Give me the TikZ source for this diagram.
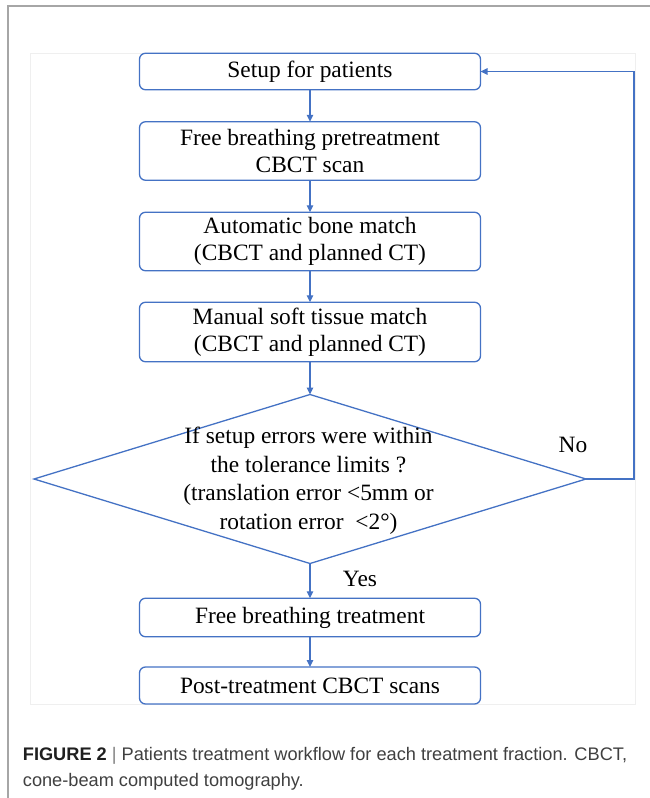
\documentclass[tikz,border=0pt]{standalone}
\usepackage{fontspec}
\setmainfont{Liberation Serif}
\newfontfamily\capfont{Liberation Sans}
\usetikzlibrary{arrows.meta,shapes.geometric}
\definecolor{flowblue}{HTML}{4472C4}
\definecolor{framegray}{HTML}{A6A6A6}
\definecolor{innergray}{HTML}{EFEFEF}
\definecolor{captext}{HTML}{404040}
\tikzset{
  stepbox/.style={draw=flowblue, line width=1.3pt, rounded corners=6pt,
    minimum width=341pt, inner sep=0pt, outer sep=0pt, align=center,
    font=\fontsize{23.4}{27.5}\selectfont},
  decision/.style={draw=flowblue, line width=1.3pt, shape=diamond,
    minimum width=552pt, minimum height=169pt, inner sep=0pt, outer sep=0pt},
  flowtext/.style={align=center, font=\fontsize{23.4}{28.5}\selectfont, inner sep=0pt},
  arr/.style={draw=flowblue, line width=1.4pt, -{Triangle[length=7pt,width=6.5pt]}},
  captionstyle/.style={anchor=base west, inner sep=0pt, text=captext,
    font=\capfont\fontsize{18.2}{22}\selectfont}
}
\begin{document}
\begin{tikzpicture}[x=1pt,y=-1pt]
\useasboundingbox (0,0) rectangle (650,798);
% frame
\draw[framegray, line width=1.5pt] (650,6) -- (8,6) -- (8,798);
\draw[innergray, line width=0.8pt] (30,53) rectangle (635,704);
% boxes
\node[stepbox, minimum height=36.5pt] (b1) at (310,71.5) {Setup for patients};
\node[stepbox, minimum height=58.5pt] (b2) at (310,151) {Free breathing pretreatment\\CBCT scan};
\node[stepbox, minimum height=58.5pt] (b3) at (310,241.5) {Automatic bone match\\(CBCT and planned CT)};
\node[stepbox, minimum height=59.5pt] (b4) at (310,332) {Manual soft tissue match\\(CBCT and planned CT)};
\node[decision] (dia) at (310,479) {};
\node[flowtext] (diatext) at (308.5,480.5) {If setup errors were within\\the tolerance limits ?\\(translation error {<}5mm or\\rotation error\ \ {<}2°)};
\node[stepbox, minimum height=38.5pt] (b5) at (310,617.5) {Free breathing treatment};
\node[stepbox, minimum height=37pt] (b6) at (310,685.5) {Post-treatment CBCT scans};
% connectors
\draw[arr] (b1.south) -- (b2.north);
\draw[arr] (b2.south) -- (b3.north);
\draw[arr] (b3.south) -- (b4.north);
\draw[arr] (b4.south) -- (dia.north);
\draw[arr] (dia.south) -- (b5.north);
\draw[arr] (b5.south) -- (b6.north);
\coordinate (fb) at (634,479);
\draw[arr] (dia.east) -- (fb) |- (b1.east);
% labels
\node[flowtext] (no) at (573,445) {No};
\node[flowtext] (yes) at (360,579) {Yes};
% caption
\node[captionstyle] (cap1) at (22.7,760) {{\bfseries\color{black!88}FIGURE 2} {\color{gray}|} Patients treatment workflow for each treatment fraction. CBCT,};
\node[captionstyle] (cap2) at (22.7,786) {cone-beam computed tomography.};
\end{tikzpicture}
\end{document}
